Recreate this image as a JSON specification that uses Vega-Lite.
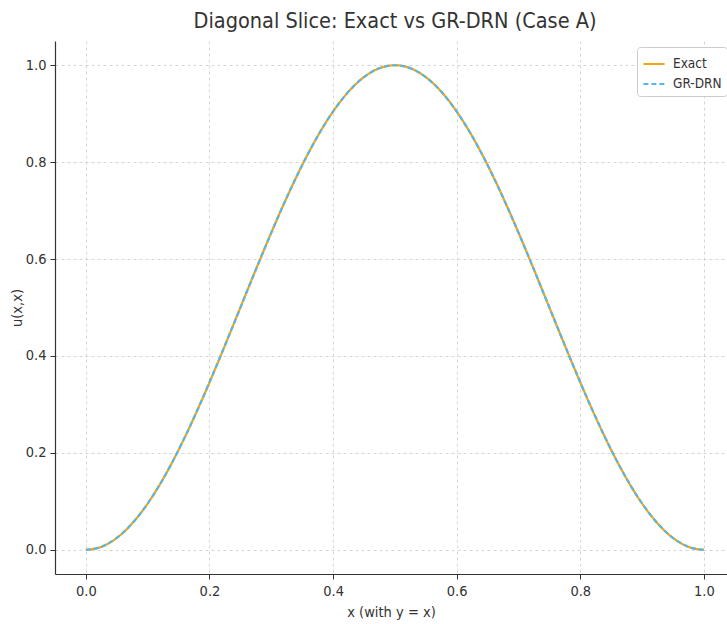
{
  "$schema": "https://vega.github.io/schema/vega-lite/v6.json",
  "width": 672,
  "height": 533,
  "autosize": {"type": "none"},
  "padding": {"left": 55, "top": 41, "right": 0, "bottom": 50},
  "background": "white",
  "title": {
    "text": "Diagonal Slice: Exact vs GR-DRN (Case A)",
    "font": "DejaVu Sans Condensed",
    "fontSize": 21.5,
    "fontWeight": "normal",
    "color": "#333",
    "anchor": "middle",
    "dx": 4,
    "offset": 9
  },
  "config": {
    "view": {"stroke": null},
    "font": "DejaVu Sans Condensed",
    "axis": {
      "labelFont": "DejaVu Sans Condensed",
      "titleFont": "DejaVu Sans Condensed",
      "labelFontSize": 14.5,
      "titleFontSize": 14.5,
      "titleFontWeight": "normal",
      "labelColor": "#333",
      "titleColor": "#333",
      "domainColor": "#333",
      "domainWidth": 1.2,
      "tickColor": "#333",
      "tickSize": 5,
      "gridColor": "#cccccc",
      "gridDash": [3, 3],
      "gridWidth": 0.8
    }
  },
  "data": {
    "values": [
      {"x": 0.00, "exact": 0.0000, "grdrn": 0.0000},
      {"x": 0.02, "exact": 0.0039, "grdrn": 0.0039},
      {"x": 0.04, "exact": 0.0157, "grdrn": 0.0157},
      {"x": 0.06, "exact": 0.0351, "grdrn": 0.0351},
      {"x": 0.08, "exact": 0.0619, "grdrn": 0.0619},
      {"x": 0.10, "exact": 0.0955, "grdrn": 0.0955},
      {"x": 0.12, "exact": 0.1355, "grdrn": 0.1355},
      {"x": 0.14, "exact": 0.1813, "grdrn": 0.1813},
      {"x": 0.16, "exact": 0.2321, "grdrn": 0.2321},
      {"x": 0.18, "exact": 0.2871, "grdrn": 0.2871},
      {"x": 0.20, "exact": 0.3455, "grdrn": 0.3455},
      {"x": 0.22, "exact": 0.4063, "grdrn": 0.4063},
      {"x": 0.24, "exact": 0.4686, "grdrn": 0.4686},
      {"x": 0.26, "exact": 0.5314, "grdrn": 0.5314},
      {"x": 0.28, "exact": 0.5937, "grdrn": 0.5937},
      {"x": 0.30, "exact": 0.6545, "grdrn": 0.6545},
      {"x": 0.32, "exact": 0.7129, "grdrn": 0.7129},
      {"x": 0.34, "exact": 0.7679, "grdrn": 0.7679},
      {"x": 0.36, "exact": 0.8187, "grdrn": 0.8187},
      {"x": 0.38, "exact": 0.8645, "grdrn": 0.8645},
      {"x": 0.40, "exact": 0.9045, "grdrn": 0.9045},
      {"x": 0.42, "exact": 0.9382, "grdrn": 0.9382},
      {"x": 0.44, "exact": 0.9649, "grdrn": 0.9649},
      {"x": 0.46, "exact": 0.9843, "grdrn": 0.9843},
      {"x": 0.48, "exact": 0.9961, "grdrn": 0.9961},
      {"x": 0.50, "exact": 1.0000, "grdrn": 1.0000},
      {"x": 0.52, "exact": 0.9961, "grdrn": 0.9961},
      {"x": 0.54, "exact": 0.9843, "grdrn": 0.9843},
      {"x": 0.56, "exact": 0.9649, "grdrn": 0.9649},
      {"x": 0.58, "exact": 0.9382, "grdrn": 0.9382},
      {"x": 0.60, "exact": 0.9045, "grdrn": 0.9045},
      {"x": 0.62, "exact": 0.8645, "grdrn": 0.8645},
      {"x": 0.64, "exact": 0.8187, "grdrn": 0.8187},
      {"x": 0.66, "exact": 0.7679, "grdrn": 0.7679},
      {"x": 0.68, "exact": 0.7129, "grdrn": 0.7129},
      {"x": 0.70, "exact": 0.6545, "grdrn": 0.6545},
      {"x": 0.72, "exact": 0.5937, "grdrn": 0.5937},
      {"x": 0.74, "exact": 0.5314, "grdrn": 0.5314},
      {"x": 0.76, "exact": 0.4686, "grdrn": 0.4686},
      {"x": 0.78, "exact": 0.4063, "grdrn": 0.4063},
      {"x": 0.80, "exact": 0.3455, "grdrn": 0.3455},
      {"x": 0.82, "exact": 0.2871, "grdrn": 0.2871},
      {"x": 0.84, "exact": 0.2321, "grdrn": 0.2321},
      {"x": 0.86, "exact": 0.1813, "grdrn": 0.1813},
      {"x": 0.88, "exact": 0.1355, "grdrn": 0.1355},
      {"x": 0.90, "exact": 0.0955, "grdrn": 0.0955},
      {"x": 0.92, "exact": 0.0619, "grdrn": 0.0619},
      {"x": 0.94, "exact": 0.0351, "grdrn": 0.0351},
      {"x": 0.96, "exact": 0.0157, "grdrn": 0.0157},
      {"x": 0.98, "exact": 0.0039, "grdrn": 0.0039},
      {"x": 1.00, "exact": 0.0000, "grdrn": 0.0000}
    ]
  },
  "transform": [
    {"fold": ["exact", "grdrn"], "as": ["key", "u"]},
    {"lookup": "key", "from": {"data": {"values": [{"key": "exact", "series": "Exact"}, {"key": "grdrn", "series": "GR-DRN"}]}, "key": "key", "fields": ["series"]}}
  ],
  "mark": {"type": "line", "strokeWidth": 2.2, "interpolate": "monotone", "clip": true},
  "encoding": {
    "x": {
      "field": "x",
      "type": "quantitative",
      "scale": {"domain": [-0.05, 1.0374], "nice": false, "zero": false},
      "axis": {
        "title": "x (with y = x)",
        "values": [0, 0.2, 0.4, 0.6, 0.8, 1.0],
        "format": ".1f",
        "labelPadding": 5,
        "titlePadding": 8
      }
    },
    "y": {
      "field": "u",
      "type": "quantitative",
      "scale": {"domain": [-0.05, 1.05], "nice": false, "zero": false},
      "axis": {
        "title": "u(x,x)",
        "values": [0, 0.2, 0.4, 0.6, 0.8, 1.0],
        "format": ".1f",
        "labelPadding": 4,
        "titlePadding": 1
      }
    },
    "color": {
      "field": "series",
      "type": "nominal",
      "scale": {"domain": ["Exact", "GR-DRN"], "range": ["#f4a40d", "#57b6e8"]},
      "legend": {
        "title": null,
        "orient": "none",
        "legendX": 582,
        "legendY": 6,
        "strokeColor": "#cccccc",
        "fillColor": "white",
        "cornerRadius": 3,
        "padding": 5,
        "symbolType": "stroke",
        "symbolSize": 450,
        "symbolStrokeWidth": 2,
        "labelFont": "DejaVu Sans Condensed",
        "labelFontSize": 13.5,
        "labelColor": "#333",
        "labelOffset": 7,
        "rowPadding": 1
      }
    },
    "strokeDash": {
      "field": "series",
      "type": "nominal",
      "scale": {"domain": ["Exact", "GR-DRN"], "range": [[1, 0], [5, 3]]},
      "legend": null
    }
  }
}
